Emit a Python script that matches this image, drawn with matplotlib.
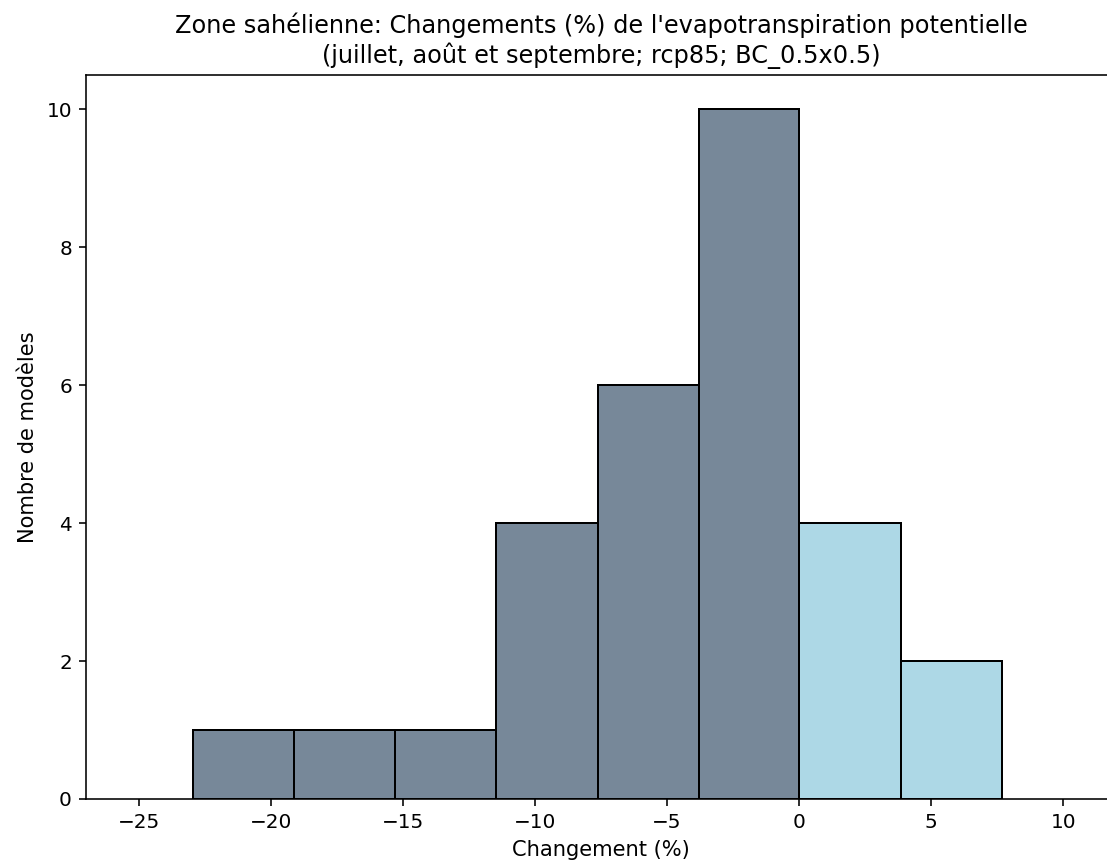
import numpy as np
import matplotlib
matplotlib.use('Agg')
import matplotlib.pyplot as plt

# Bornes des classes et nombre de modèles par classe
bin_edges = [-22.95, -19.12, -15.29, -11.46, -7.63, -3.80, 0.0, 3.86, 7.69]
counts = [1, 1, 1, 4, 6, 10, 4, 2]

edges = np.array(bin_edges)
lefts = edges[:-1]
widths = np.diff(edges)
centers = lefts + widths / 2
colors = ['lightblue' if c > 0 else 'lightslategray' for c in centers]

dpi = 144
fig = plt.figure(figsize=(1107 / dpi, 867 / dpi), dpi=dpi)
ax = fig.add_axes([86 / 1107, 68 / 867, 1030 / 1107, 724 / 867])

ax.bar(lefts, counts, width=widths, align='edge', color=colors,
       edgecolor='black', linewidth=1)

ax.set_xlim(-27, 12)
ax.set_ylim(0, 10.5)
ax.set_xticks([-25, -20, -15, -10, -5, 0, 5, 10])
ax.set_yticks([0, 2, 4, 6, 8, 10])
ax.tick_params(labelsize=10)
ax.set_xlabel('Changement (%)', fontsize=10.5)
ax.set_ylabel('Nombre de modèles', fontsize=10.5)
ax.set_title("Zone sahélienne: Changements (%) de l'evapotranspiration potentielle\n"
             "(juillet, août et septembre; rcp85; BC_0.5x0.5)", fontsize=12)

fig.savefig('out.png', dpi=dpi)
